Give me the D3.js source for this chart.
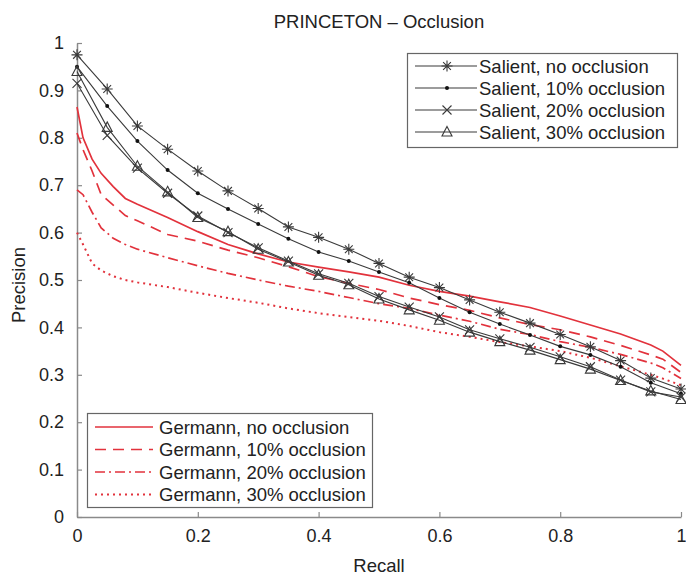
<!DOCTYPE html>
<html>
<head>
<meta charset="utf-8">
<script src="https://cdn.jsdelivr.net/npm/d3@7"></script>
<style>
  html, body { margin: 0; padding: 0; background: #fff; }
  svg { display: block; font-family: "Liberation Sans", Arial, Helvetica, sans-serif; }
</style>
</head>
<body>
<svg id="chart" width="686" height="575"></svg>
<script>
// Precision/recall curves for the PRINCETON benchmark under occlusion.

// Salient method: sampled every 0.05 of recall
const salientRecall = [0, 0.05, 0.1, 0.15, 0.2, 0.25, 0.3, 0.35, 0.4, 0.45, 0.5,
                       0.55, 0.6, 0.65, 0.7, 0.75, 0.8, 0.85, 0.9, 0.95, 1.0];
const salientNone = [0.975, 0.903, 0.825, 0.776, 0.730, 0.688, 0.651, 0.612, 0.590, 0.565, 0.535,
                     0.506, 0.484, 0.458, 0.432, 0.409, 0.385, 0.359, 0.330, 0.293, 0.270];
const salient10 = [0.950, 0.867, 0.793, 0.732, 0.683, 0.650, 0.618, 0.587, 0.559, 0.540, 0.517,
                   0.494, 0.462, 0.432, 0.407, 0.384, 0.360, 0.342, 0.317, 0.283, 0.260];
const salient20 = [0.915, 0.805, 0.736, 0.683, 0.635, 0.600, 0.568, 0.540, 0.513, 0.493, 0.465,
                   0.443, 0.422, 0.395, 0.376, 0.358, 0.338, 0.317, 0.289, 0.264, 0.253];
const salient30 = [0.940, 0.822, 0.740, 0.686, 0.632, 0.602, 0.565, 0.538, 0.510, 0.490, 0.460,
                   0.437, 0.415, 0.390, 0.370, 0.352, 0.332, 0.312, 0.288, 0.266, 0.248];

// Germann method: densely sampled curves (no markers)
const germannRecall = [0, 0.01, 0.025, 0.04, 0.06, 0.08, 0.1, 0.15, 0.2, 0.25, 0.3, 0.35, 0.4,
                       0.45, 0.5, 0.55, 0.6, 0.65, 0.7, 0.75, 0.8, 0.85, 0.9, 0.95, 0.97, 1.0];
const germannNone = [0.865, 0.800, 0.755, 0.725, 0.697, 0.672, 0.660, 0.632, 0.602, 0.575, 0.555, 0.538, 0.527,
                     0.517, 0.506, 0.489, 0.476, 0.466, 0.454, 0.442, 0.424, 0.405, 0.386, 0.363, 0.350, 0.320];
const germann10 = [0.810, 0.775, 0.730, 0.680, 0.658, 0.636, 0.625, 0.596, 0.582, 0.563, 0.547, 0.528, 0.507,
                   0.493, 0.480, 0.462, 0.448, 0.436, 0.420, 0.406, 0.395, 0.380, 0.362, 0.342, 0.333, 0.305];
const germann20 = [0.690, 0.680, 0.643, 0.610, 0.588, 0.575, 0.565, 0.547, 0.530, 0.514, 0.500, 0.487, 0.476,
                   0.463, 0.450, 0.440, 0.426, 0.413, 0.396, 0.385, 0.370, 0.358, 0.343, 0.325, 0.315, 0.292];
const germann30 = [0.600, 0.575, 0.535, 0.520, 0.508, 0.500, 0.495, 0.485, 0.473, 0.462, 0.452, 0.440, 0.430,
                   0.422, 0.414, 0.403, 0.390, 0.380, 0.369, 0.360, 0.350, 0.336, 0.318, 0.300, 0.292, 0.278];

const salientLabels = ["Salient, no occlusion", "Salient, 10% occlusion", "Salient, 20% occlusion", "Salient, 30% occlusion"];
const germannLabels = ["Germann, no occlusion", "Germann, 10% occlusion", "Germann, 20% occlusion", "Germann, 30% occlusion"];
const tickValues = [0, 0.1, 0.2, 0.3, 0.4, 0.5, 0.6, 0.7, 0.8, 0.9, 1];
const xTickValues = [0, 0.2, 0.4, 0.6, 0.8, 1];

const title = "PRINCETON \u2013 Occlusion";
const xTitle = "Recall";
const yTitle = "Precision";

const RED = "#e2323c";
const DARK = "#3a3a3a";
const AXIS = "#8a8a8a";
const FONT = "18.5px";
const TICK_FONT = "18px";

const svg = d3.select("#chart");
const margin = { left: 77, right: 5, top: 43, bottom: 58 };
const W = 686, H = 575;

const x = d3.scaleLinear().domain([0, 1]).range([margin.left, W - margin.right]);
const y = d3.scaleLinear().domain([0, 1]).range([H - margin.bottom, margin.top]);

// Axes with inward ticks
const xAxis = d3.axisBottom(x).tickValues(xTickValues).tickFormat(d3.format("~g"))
  .tickSizeInner(-5).tickSizeOuter(0).tickPadding(12);
const yAxis = d3.axisLeft(y).tickValues(tickValues).tickFormat(d3.format("~g"))
  .tickSizeInner(-5).tickSizeOuter(0).tickPadding(13);

const gx = svg.append("g").attr("transform", `translate(0,${y(0)})`).call(xAxis);
const gy = svg.append("g").attr("transform", `translate(${x(0)},0)`).call(yAxis);
[gx, gy].forEach(g => {
  g.select(".domain").attr("stroke", AXIS).attr("stroke-width", 1.5);
  g.selectAll(".tick line").attr("stroke", AXIS).attr("stroke-width", 1.2);
  g.selectAll(".tick text").attr("fill", "#222").style("font-size", TICK_FONT)
    .style("font-family", "'Liberation Sans', Arial, sans-serif");
});

// Titles
svg.append("text").attr("x", (x(0) + x(1)) / 2).attr("y", 28).attr("text-anchor", "middle")
  .attr("fill", "#222").style("font-size", FONT).text(title);
svg.append("text").attr("x", (x(0) + x(1)) / 2).attr("y", 572).attr("text-anchor", "middle")
  .attr("fill", "#222").style("font-size", FONT).text(xTitle);
svg.append("text").attr("transform", `translate(25,285) rotate(-90)`)
  .attr("text-anchor", "middle").attr("fill", "#222").style("font-size", FONT).text(yTitle);

// Line styles for the Germann curves
const germannDash = [null, "11,7", "10,4,2,4", "2,4"];
const germannSeries = [germannNone, germann10, germann20, germann30];
const salientSeries = [salientNone, salient10, salient20, salient30];

const line = d3.line().x(d => x(d[0])).y(d => y(d[1]));

germannSeries.forEach((vals, i) => {
  const pts = germannRecall.map((r, j) => [r, vals[j]]);
  svg.append("path").attr("d", line(pts)).attr("fill", "none")
    .attr("stroke", RED).attr("stroke-width", i === 3 ? 2 : 1.7)
    .attr("stroke-dasharray", germannDash[i]);
});

// Marker shapes: asterisk, dot, cross, triangle
function marker(g, kind) {
  const s = 5.5;
  if (kind === 0) {
    const p = d3.path();
    for (let k = 0; k < 4; k++) {
      const a = k * Math.PI / 4;
      p.moveTo(-s * Math.cos(a), -s * Math.sin(a));
      p.lineTo(s * Math.cos(a), s * Math.sin(a));
    }
    g.append("path").attr("d", p.toString()).attr("stroke", DARK).attr("stroke-width", 1.1).attr("fill", "none");
  } else if (kind === 1) {
    g.append("circle").attr("r", 2).attr("fill", "#111");
  } else if (kind === 2) {
    const p = d3.path();
    p.moveTo(-4.5, -4.5); p.lineTo(4.5, 4.5);
    p.moveTo(-4.5, 4.5); p.lineTo(4.5, -4.5);
    g.append("path").attr("d", p.toString()).attr("stroke", DARK).attr("stroke-width", 1.1).attr("fill", "none");
  } else {
    const p = d3.path();
    p.moveTo(0, -5.5); p.lineTo(5, 4); p.lineTo(-5, 4); p.closePath();
    g.append("path").attr("d", p.toString()).attr("stroke", DARK).attr("stroke-width", 1.1).attr("fill", "none");
  }
}

salientSeries.forEach((vals, i) => {
  const pts = salientRecall.map((r, j) => [r, vals[j]]);
  svg.append("path").attr("d", line(pts)).attr("fill", "none")
    .attr("stroke", DARK).attr("stroke-width", 1.1);
  pts.forEach(p => {
    const g = svg.append("g").attr("transform", `translate(${x(p[0])},${y(p[1])})`);
    marker(g, i);
  });
});

// Legend: Salient (top right)
const lg1 = svg.append("g");
lg1.append("rect").attr("x", 407.5).attr("y", 53.5).attr("width", 270).attr("height", 94)
  .attr("fill", "#fff").attr("stroke", "#666").attr("stroke-width", 1.2);
salientLabels.forEach((lab, i) => {
  const yy = 66 + i * 22;
  lg1.append("line").attr("x1", 415).attr("x2", 477).attr("y1", yy).attr("y2", yy)
    .attr("stroke", DARK).attr("stroke-width", 1.1);
  marker(lg1.append("g").attr("transform", `translate(447,${yy})`), i);
  lg1.append("text").attr("x", 479).attr("y", yy + 6.5).attr("fill", "#222")
    .style("font-size", FONT).text(lab);
});

// Legend: Germann (bottom left)
const lg2 = svg.append("g");
lg2.append("rect").attr("x", 87.5).attr("y", 413.5).attr("width", 285).attr("height", 94)
  .attr("fill", "#fff").attr("stroke", "#666").attr("stroke-width", 1.2);
germannLabels.forEach((lab, i) => {
  const yy = 427 + i * 22.5;
  lg2.append("line").attr("x1", 95).attr("x2", 153).attr("y1", yy).attr("y2", yy)
    .attr("stroke", RED).attr("stroke-width", i === 3 ? 2 : 1.7)
    .attr("stroke-dasharray", germannDash[i]);
  lg2.append("text").attr("x", 159).attr("y", yy + 6.5).attr("fill", "#222")
    .style("font-size", FONT).text(lab);
});
</script>
</body>
</html>
